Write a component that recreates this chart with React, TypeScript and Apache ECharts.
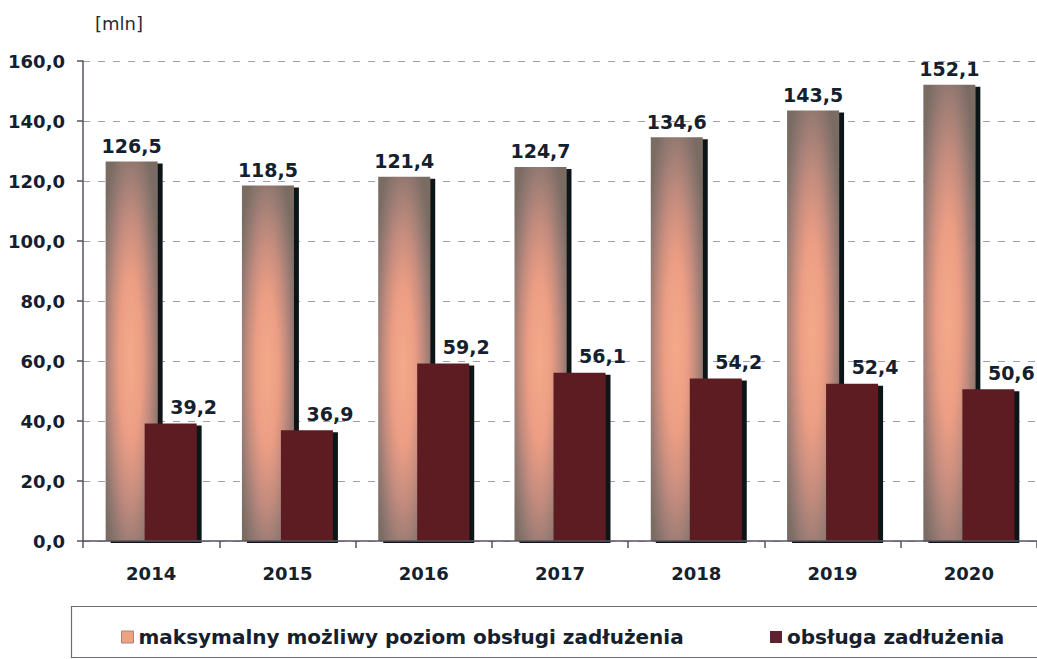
import React, { useEffect, useRef } from 'react';
import * as echarts from 'echarts';

const years = ['2014', '2015', '2016', '2017', '2018', '2019', '2020'];
const maxPossible = [126.5, 118.5, 121.4, 124.7, 134.6, 143.5, 152.1];
const debtService = [39.2, 36.9, 59.2, 56.1, 54.2, 52.4, 50.6];
const seriesNames = ['maksymalny możliwy poziom obsługi zadłużenia', 'obsługa zadłużenia'];
const unitLabel = '[mln]';
const yMin = 0;
const yMax = 160;
const yStep = 20;

const fmt = (v: number) => v.toFixed(1).replace('.', ',');
const FONT = '"DejaVu Sans", sans-serif';
const TXT = '#14202e';

export default function App() {
  const ref = useRef<HTMLDivElement>(null);
  useEffect(() => {
    if (!ref.current) return;
    const chart = echarts.init(ref.current, undefined, { renderer: 'svg' });
    const grad = new echarts.graphic.RadialGradient(0.48, 0.52, 0.62, [
      { offset: 0, color: '#f3aa8a' },
      { offset: 0.35, color: '#ec9e84' },
      { offset: 0.6, color: '#c48c7e' },
      { offset: 0.82, color: '#977a72' },
      { offset: 1, color: '#7a6c64' },
    ]);
    const legendText = { fontFamily: FONT, fontWeight: 'bold' as const, fontSize: 20, color: TXT };
    chart.setOption({
      animation: false,
      backgroundColor: '#ffffff',
      grid: { left: 83, top: 61, width: 959, height: 480, containLabel: false },
      graphic: [
        {
          type: 'text',
          left: 95,
          top: 14,
          style: { text: unitLabel, fontFamily: FONT, fontSize: 18, fill: '#2a2a33' },
        },
        {
          type: 'rect',
          shape: { x: 71.5, y: 606.5, width: 990, height: 51 },
          style: { fill: 'none', stroke: '#6c6a72', lineWidth: 1.2 },
          z: -1,
        },
      ],
      legend: [
        {
          data: [{ name: seriesNames[0], itemStyle: { color: '#eea282', borderColor: '#a8847a', borderWidth: 1 } }],
          left: 116,
          top: 622,
          icon: 'rect',
          itemWidth: 12,
          itemHeight: 12,
          textStyle: legendText,
        },
        {
          data: [{ name: seriesNames[1], itemStyle: { color: '#5e2230' } }],
          left: 765,
          top: 622,
          icon: 'rect',
          itemWidth: 12,
          itemHeight: 12,
          textStyle: legendText,
        },
      ],
      xAxis: {
        type: 'category',
        data: years,
        axisLine: { lineStyle: { color: '#5a5262', width: 1.5 } },
        axisTick: { show: true, length: 7, lineStyle: { color: '#5a5262', width: 1.5 } },
        axisLabel: { margin: 23, fontFamily: FONT, fontWeight: 'bold', fontSize: 18, color: TXT },
        z: 5,
      },
      yAxis: {
        type: 'value',
        min: yMin,
        max: yMax,
        interval: yStep,
        axisLine: { show: true, lineStyle: { color: '#5a5262', width: 1.5 } },
        axisTick: { show: true, length: 6, lineStyle: { color: '#5a5262', width: 1.5 } },
        axisLabel: {
          margin: 18,
          formatter: (v: number) => fmt(v),
          fontFamily: FONT,
          fontWeight: 'bold',
          fontSize: 18,
          color: TXT,
        },
        splitLine: { show: true, lineStyle: { color: '#a39db0', type: [7, 8], width: 1 } },
      },
      series: [
        {
          name: seriesNames[0],
          type: 'bar',
          data: maxPossible,
          barWidth: 52,
          barGap: '-25%',
          itemStyle: {
            color: grad,
            shadowColor: '#0c1616',
            shadowOffsetX: 5,
            shadowOffsetY: 2,
            shadowBlur: 0,
          },
          label: {
            show: true,
            position: 'top',
            distance: 6,
            formatter: (p: any) => fmt(p.value),
            fontFamily: FONT,
            fontWeight: 'bold',
            fontSize: 19,
            color: TXT,
          },
        },
        {
          name: seriesNames[1],
          type: 'bar',
          data: debtService,
          barWidth: 52,
          itemStyle: {
            color: '#5b1e24',
            shadowColor: '#0c1616',
            shadowOffsetX: 5,
            shadowOffsetY: 2,
            shadowBlur: 0,
          },
          label: {
            show: true,
            position: 'top',
            distance: 7,
            offset: [23, 0],
            formatter: (p: any) => fmt(p.value),
            fontFamily: FONT,
            fontWeight: 'bold',
            fontSize: 19,
            color: TXT,
          },
        },
      ],
    });
    return () => chart.dispose();
  }, []);
  return <div ref={ref} style={{ position: 'fixed', left: 0, top: 0, width: 1037, height: 659 }} />;
}
